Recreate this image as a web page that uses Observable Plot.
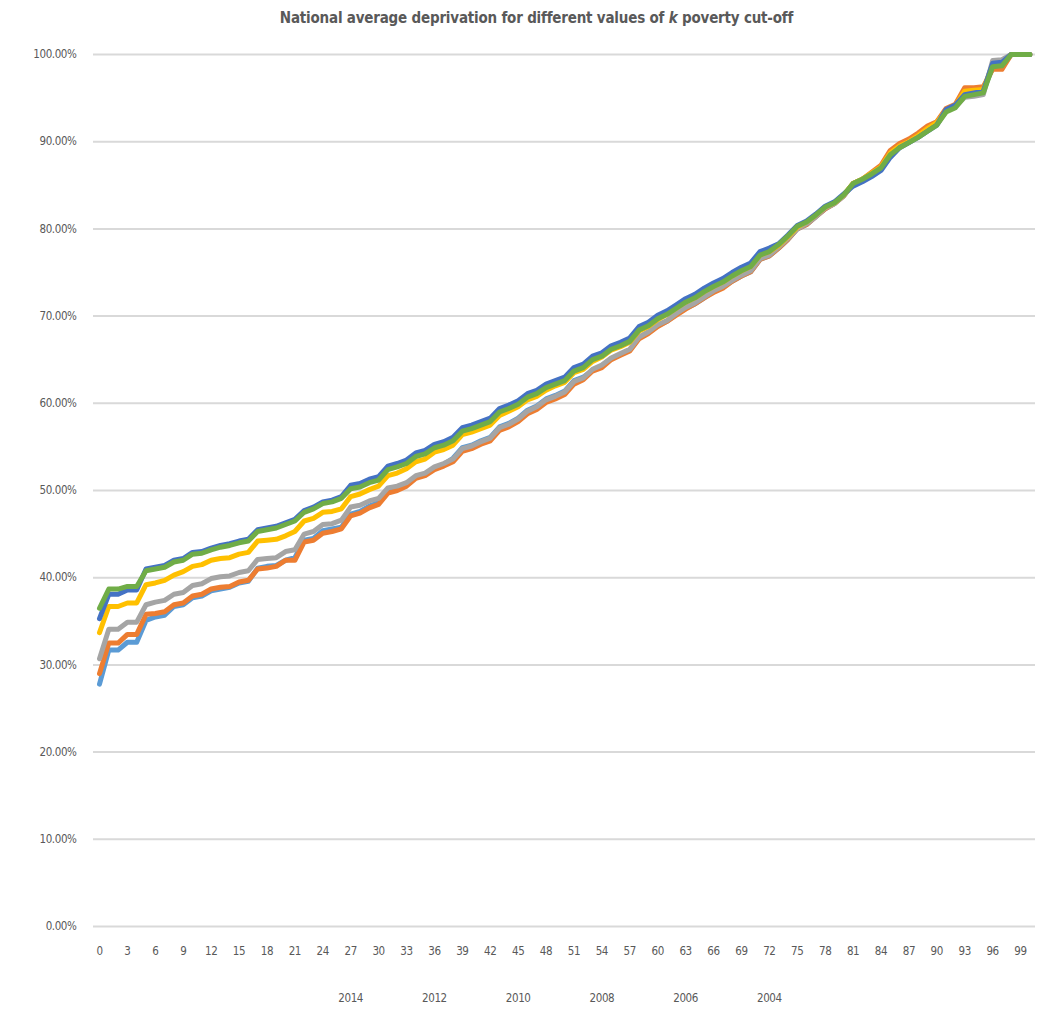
<!DOCTYPE html>
<html>
<head>
<meta charset="utf-8">
<script src="https://cdn.jsdelivr.net/npm/d3@7"></script>
<script src="https://cdn.jsdelivr.net/npm/@observablehq/plot@0.6"></script>
<style>
  body { margin: 0; background: #fff; }
  #title { height: 36px; line-height: 36px; text-align: center; font-family: "Liberation Sans Narrow", "DejaVu Sans Condensed", sans-serif; font-weight: bold; font-size: 15px; color: #595959; padding-left: 36px; letter-spacing: -0.2px; }
  #chart svg { font-family: "Liberation Sans Narrow", "DejaVu Sans Condensed", sans-serif; letter-spacing: -0.4px; }
</style>
</head>
<body>
<div id="title">National average deprivation for different values of <i>k</i> poverty cut-off</div>
<div id="chart"></div>
<script>
// x categories 0..100
const categories = d3.range(0, 101);
const seriesNames = ["k1", "k2", "k3", "k4", "k5", "k6"];
const seriesColors = ["#5B9BD5", "#ED7D31", "#A5A5A5", "#FFC000", "#4472C4", "#70AD47"];

const lightBlue = [27.8,31.7,31.7,32.6,32.6,35.1,35.5,35.7,36.7,36.9,37.7,37.9,38.5,38.7,38.9,39.4,39.6,41.1,41.3,41.4,42.0,42.3,44.3,44.5,45.4,45.6,45.8,
47.3,47.6,48.2,48.6,49.9,50.2,50.7,51.6,51.9,52.6,53.0,53.7,54.9,55.2,55.7,56.1,57.3,57.7,58.3,59.2,59.7,60.5,60.9,61.4,62.6,63.0,
63.8,64.3,65.1,65.6,66.1,67.5,68.1,68.9,69.4,70.2,70.9,71.4,72.1,72.8,73.3,74.0,74.6,75.1,76.5,76.9,77.8,78.8,80.0,80.5,81.4,82.3,82.9,83.8,
85.1,85.6,86.3,87.0,88.7,89.5,90.1,90.8,91.6,92.2,93.7,94.2,95.6,95.7,95.9,98.5,98.6,100,100,100];

const orange = [29.0,32.5,32.5,33.5,33.5,35.8,35.9,36.1,36.9,37.1,37.9,38.1,38.7,38.9,39.0,39.5,39.7,41.0,41.1,41.3,42.0,42.0,44.1,44.3,45.1,45.3,45.6,
47.1,47.4,48.0,48.4,49.7,50.0,50.5,51.4,51.7,52.4,52.8,53.3,54.5,54.8,55.3,55.7,56.9,57.3,57.9,58.8,59.3,60.1,60.5,61.0,62.2,62.7,
63.7,64.1,65.0,65.5,66.0,67.4,68.0,68.8,69.4,70.1,70.8,71.4,72.1,72.7,73.2,74.0,74.6,75.1,76.5,76.9,77.8,78.8,80.0,80.5,81.4,82.3,82.9,83.8,
85.2,85.7,86.5,87.3,89.0,89.8,90.3,91.0,91.8,92.3,93.8,94.3,96.2,96.2,96.3,98.3,98.3,100,100,100];

const gray = [30.7,34.1,34.1,34.9,34.9,36.9,37.2,37.4,38.1,38.3,39.1,39.3,39.9,40.1,40.2,40.6,40.8,42.1,42.2,42.3,43.0,43.2,45.0,45.3,46.1,46.2,46.6,
48.1,48.3,48.8,49.1,50.3,50.5,50.9,51.7,52.0,52.7,53.1,53.6,54.8,55.1,55.6,56.0,57.2,57.6,58.2,59.1,59.6,60.4,60.8,61.3,62.5,62.9,
63.9,64.4,65.2,65.7,66.2,67.6,68.2,69.0,69.5,70.3,71.0,71.5,72.2,72.9,73.4,74.1,74.7,75.2,76.6,77.0,77.9,78.9,80.0,80.6,81.4,82.4,82.9,83.8,
85.2,85.7,86.3,87.0,88.6,89.4,89.9,90.6,91.3,92.0,93.5,94.0,95.1,95.2,95.4,99.3,99.4,100,100,100];

const yellow = [33.7,36.7,36.7,37.1,37.1,39.2,39.4,39.7,40.3,40.7,41.3,41.5,42.0,42.2,42.3,42.7,42.9,44.2,44.3,44.4,44.8,45.3,46.5,46.8,47.5,47.6,47.9,
49.3,49.6,50.1,50.5,51.7,52.0,52.5,53.3,53.6,54.4,54.7,55.2,56.4,56.7,57.1,57.5,58.6,59.1,59.6,60.4,60.8,61.5,62.0,62.4,63.5,63.9,
64.8,65.3,66.1,66.5,67.0,68.3,68.8,69.6,70.2,70.9,71.6,72.1,72.8,73.4,73.9,74.6,75.2,75.7,77.0,77.4,78.1,79.1,80.2,80.8,81.6,82.5,83.0,83.9,
85.2,85.7,86.4,87.1,88.7,89.5,90.0,90.7,91.5,92.2,93.6,94.1,95.8,95.9,96.0,98.8,98.9,100,100,100];

const darkBlue = [35.3,38.1,38.1,38.6,38.6,41.0,41.2,41.4,42.0,42.2,42.9,43.0,43.4,43.7,43.9,44.2,44.4,45.5,45.7,45.9,46.3,46.7,47.7,48.1,48.7,48.9,49.3,
50.6,50.8,51.3,51.6,52.8,53.1,53.5,54.3,54.6,55.3,55.6,56.1,57.2,57.5,57.9,58.3,59.4,59.8,60.3,61.1,61.5,62.2,62.6,63.0,64.1,64.5,
65.4,65.8,66.6,67.0,67.5,68.8,69.3,70.1,70.6,71.3,72.0,72.5,73.2,73.8,74.3,75.0,75.6,76.1,77.4,77.8,78.3,79.3,80.4,80.9,81.7,82.6,83.1,84.0,
84.9,85.4,86.0,86.7,88.2,89.3,89.9,90.5,91.2,91.9,93.7,94.2,95.4,95.6,95.8,99.0,99.1,100,100,100];

const green = [36.5,38.7,38.7,39.0,39.0,40.8,41.0,41.2,41.8,42.0,42.7,42.8,43.2,43.5,43.7,44.0,44.2,45.3,45.5,45.7,46.1,46.5,47.5,47.9,48.5,48.7,49.1,
50.2,50.4,50.9,51.2,52.4,52.7,53.1,53.9,54.2,54.9,55.2,55.7,56.8,57.1,57.5,57.9,59.0,59.4,59.9,60.7,61.1,61.8,62.2,62.6,63.7,64.1,
65.0,65.4,66.2,66.6,67.1,68.4,68.9,69.7,70.2,70.9,71.6,72.1,72.8,73.4,73.9,74.6,75.2,75.7,77.0,77.4,78.2,79.2,80.3,80.8,81.6,82.5,83.0,83.9,
85.2,85.7,86.3,87.0,88.5,89.3,89.9,90.5,91.2,91.9,93.4,93.9,95.2,95.4,95.6,98.6,98.7,100,100,100];

const yTicks = [0, 10, 20, 30, 40, 50, 60, 70, 80, 90, 100];
const xTicks = d3.range(0, 100, 3);
const yearLabels = ["2014", "2012", "2010", "2008", "2006", "2004"];
const yearPositions = [27, 36, 45, 54, 63, 72];

const allSeries = [lightBlue, orange, gray, yellow, darkBlue, green];
const data = allSeries.flatMap((vals, s) => categories.map((c, i) => ({series: seriesNames[s], x: c, y: vals[i]})));
const years = yearLabels.map((t, i) => ({label: t, x: yearPositions[i]}));

const chart = Plot.plot({
  width: 1037,
  height: 984,
  marginTop: 18,
  marginBottom: 94,
  marginLeft: 93,
  marginRight: 2,
  style: {fontSize: "11.5px", color: "#595959", background: "#fff"},
  x: {domain: [-0.645, 100.61]},
  y: {domain: [0, 100]},
  color: {domain: seriesNames, range: seriesColors},
  marks: [
    Plot.gridY(yTicks, {stroke: "#d9d9d9", strokeOpacity: 1, strokeWidth: 2}),
    Plot.axisY(yTicks, {tickSize: 0, tickPadding: 17, tickFormat: d => d.toFixed(2) + "%", fill: "#595959", label: null}),
    Plot.axisX(xTicks, {tickSize: 0, tickPadding: 20, fill: "#595959", label: null}),
    Plot.text(years, {x: "x", text: "label", frameAnchor: "bottom", dy: 75, fill: "#595959", fontSize: 11.5}),
    Plot.line(data, {x: "x", y: "y", z: "series", stroke: "series", strokeWidth: 5, strokeLinejoin: "round", strokeLinecap: "round"})
  ]
});
document.getElementById("chart").appendChild(chart);
</script>
</body>
</html>
